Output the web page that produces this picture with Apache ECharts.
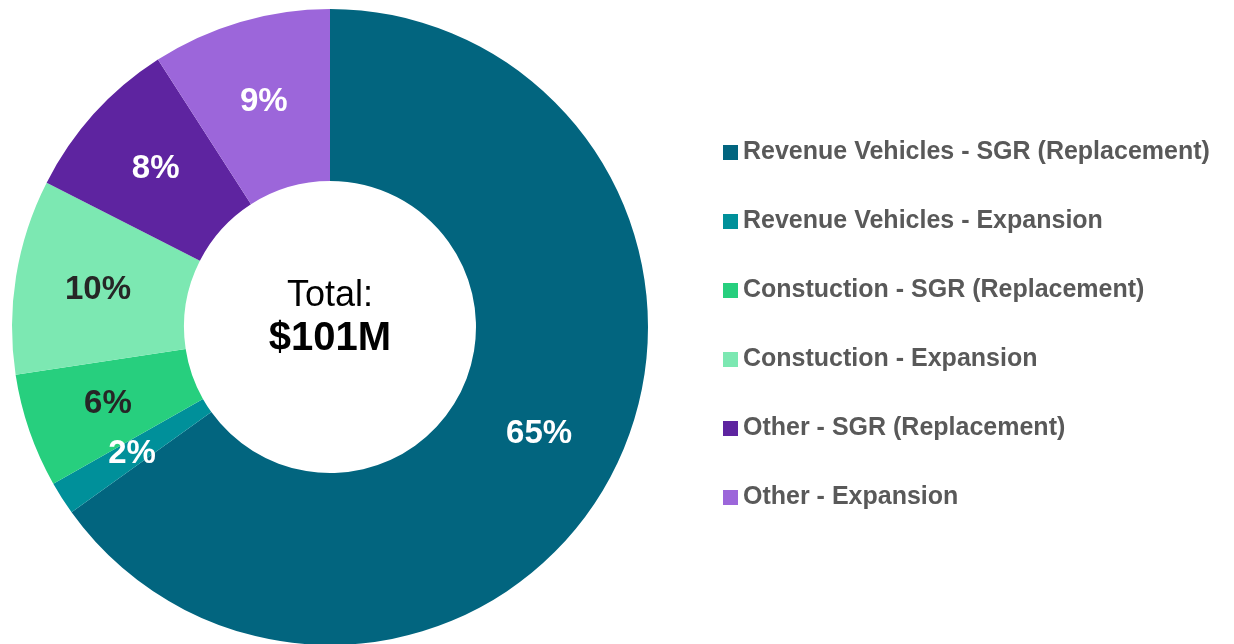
<!DOCTYPE html>
<html>
<head>
<meta charset="utf-8">
<script src="https://cdn.jsdelivr.net/npm/echarts@6/dist/echarts.min.js"></script>
<style>
  html, body { margin: 0; padding: 0; background: #fff; }
  #chart { width: 1234px; height: 644px; }
</style>
</head>
<body>
<div id="chart"></div>
<script>
// shares of the $101M total, in percent
const categories = [
  'Revenue Vehicles - SGR (Replacement)',
  'Revenue Vehicles - Expansion',
  'Constuction - SGR (Replacement)',
  'Constuction - Expansion',
  'Other - SGR (Replacement)',
  'Other - Expansion'
]
const shares = [65.1, 1.7, 5.8, 9.9, 8.4, 9.1]
const colors = ['#02657f', '#00909a', '#27cf7e', '#7ce8b2', '#5e24a0', '#9c66da']
const labelColors = ['#fff', '#fff', '#262626', '#262626', '#fff', '#fff']
const totalLabel = '$101M'

const font = '"Liberation Sans", Arial, sans-serif'

const chart = echarts.init(document.getElementById('chart'))
chart.setOption({
  animation: false,
  legend: {
    orient: 'vertical',
    left: 718,
    top: 135,
    itemWidth: 15,
    itemHeight: 15,
    itemGap: 44,
    icon: 'rect',
    selectedMode: false,
    textStyle: { fontFamily: font, fontSize: 25, fontWeight: 'bold', color: '#595959', lineHeight: 25 }
  },
  graphic: [
    {
      type: 'text', x: 330, y: 296,
      style: { text: 'Total:', fontFamily: font, fontSize: 36, fill: '#000', textAlign: 'center', textVerticalAlign: 'middle' }
    },
    {
      type: 'text', x: 330, y: 339,
      style: { text: totalLabel, fontFamily: font, fontSize: 40, fontWeight: 'bold', fill: '#000', textAlign: 'center', textVerticalAlign: 'middle' }
    }
  ],
  series: [{
    type: 'pie',
    center: [330, 327],
    radius: [146, 318],
    startAngle: 90,
    clockwise: true,
    silent: true,
    avoidLabelOverlap: false,
    label: {
      show: true,
      position: 'inside',
      fontFamily: font,
      fontSize: 33,
      fontWeight: 'bold',
      formatter: p => Math.round(p.value) + '%'
    },
    labelLine: { show: false },
    data: categories.map((name, i) => ({
      name,
      value: shares[i],
      itemStyle: { color: colors[i] },
      label: { color: labelColors[i] }
    }))
  }]
})
</script>
</body>
</html>
